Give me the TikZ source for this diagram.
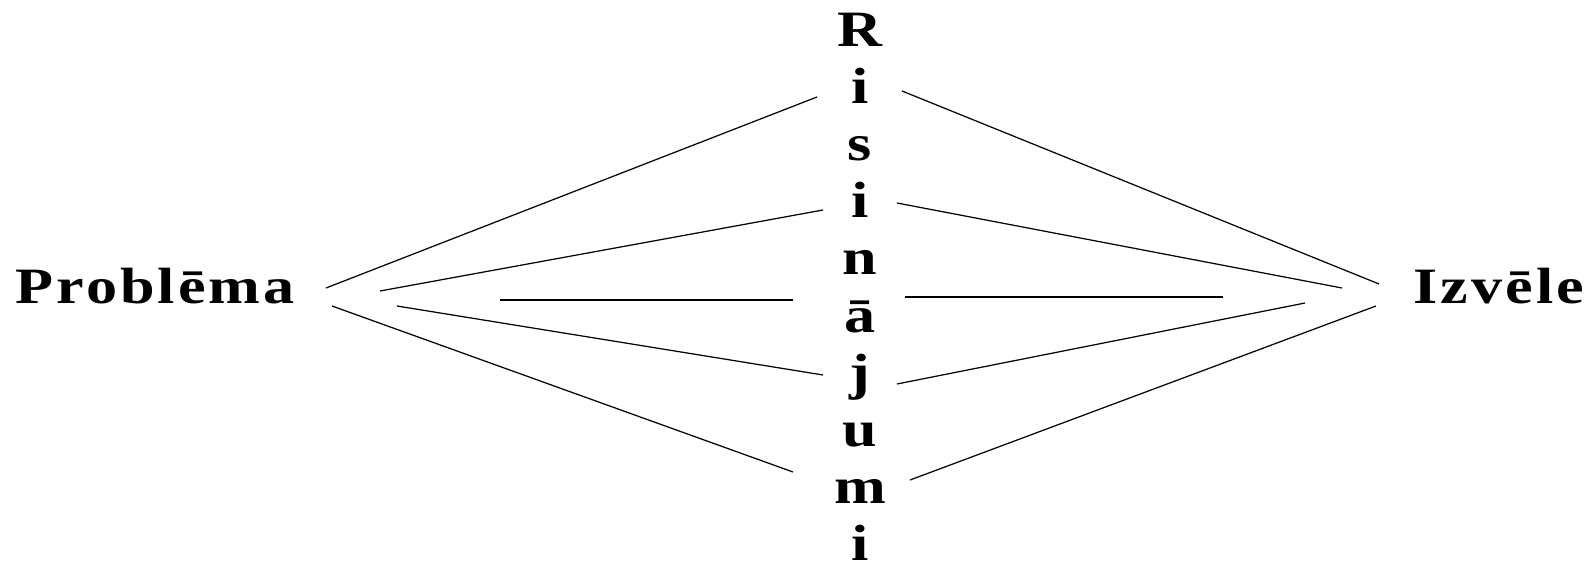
\documentclass[tikz,border=0pt]{standalone}
\usepackage{fontspec}
\setmainfont{Liberation Serif}
\newfontfamily\spacedserif[LetterSpace=5]{Liberation Serif}
\usetikzlibrary{positioning}

\begin{document}
\begin{tikzpicture}[x=0.02cm, y=-0.02cm,
      sideword/.style={font=\spacedserif\bfseries\fontsize{29}{34}\selectfont, inner sep=0pt, xscale=1.22},
      stemletter/.style={font=\bfseries\fontsize{29}{34}\selectfont, inner sep=0pt, xscale=1.22, anchor=base},
      fanline/.style={line width=0.7pt}]
   \useasboundingbox (0,0) rectangle (1592,564);
   % Side words
   \node[sideword, anchor=base west] (problema) at (15,303) {Problēma};
   \node[sideword, anchor=base west] (izvele) at (1413,303) {Izvēle};
   % Vertical word in the middle
   \foreach \ch [count=\k from 0] in {R,i,s,i,n,ā,j,u,m,i}
      \node[stemletter] (ris\k) at (860,47+57*\k) {\ch};
   % Left fan: ends near Problema
   \coordinate (pa1) at (326,288);
   \coordinate (pa2) at (380,291);
   \coordinate (pa3) at (500,300);
   \coordinate (pa4) at (397,306);
   \coordinate (pa5) at (332,306);
   % Left fan: ends near the middle word
   \coordinate (pb1) at (817,97);
   \coordinate (pb2) at (823,210);
   \coordinate (pb3) at (793,300);
   \coordinate (pb4) at (823,375);
   \coordinate (pb5) at (793,472);
   % Right fan: ends near the middle word
   \coordinate (ia1) at (902,91);
   \coordinate (ia2) at (897,203);
   \coordinate (ia3) at (905,297);
   \coordinate (ia4) at (897,384);
   \coordinate (ia5) at (910,480);
   % Right fan: ends near Izvele
   \coordinate (ib1) at (1379,284);
   \coordinate (ib2) at (1342,288);
   \coordinate (ib3) at (1223,297);
   \coordinate (ib4) at (1305,303);
   \coordinate (ib5) at (1376,306);
   % Lines
   \foreach \n in {1,...,5} {
      \draw[fanline] (pa\n) -- (pb\n);
      \draw[fanline] (ia\n) -- (ib\n);
   }
\end{tikzpicture}
\end{document}
